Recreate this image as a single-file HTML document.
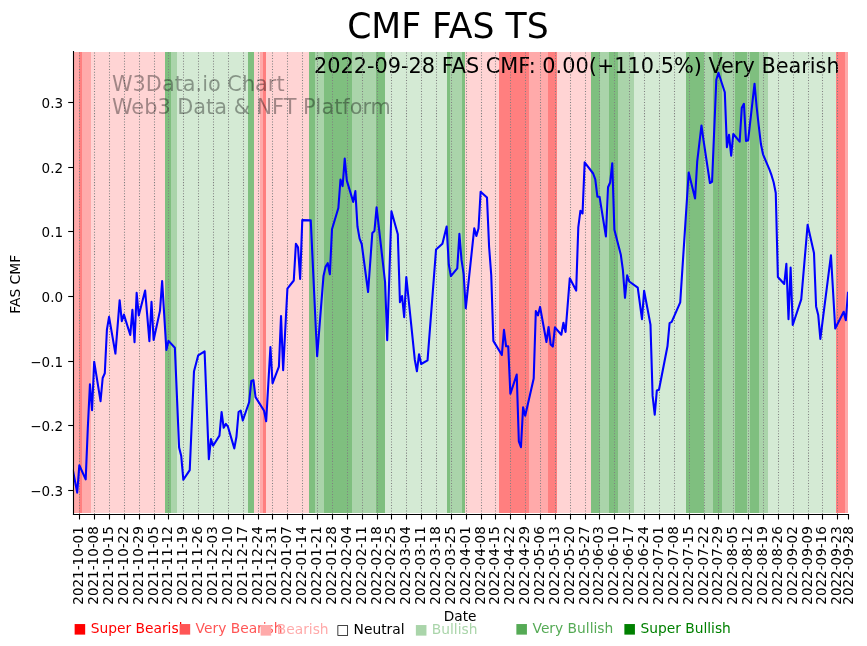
<!DOCTYPE html>
<html lang="en"><head><meta charset="utf-8"><title>CMF FAS TS</title>
<style>html,body{margin:0;padding:0;background:#fff}body{width:867px;height:646px;overflow:hidden}svg{display:block}</style>
</head><body>
<svg width="867" height="646" viewBox="0 0 867 646">
<rect width="867" height="646" fill="#fff"/>
<g shape-rendering="crispEdges">
<rect x="73" y="52" width="6" height="461" fill="#ffaaaa"/>
<rect x="79" y="52" width="3" height="461" fill="#ff7f7f"/>
<rect x="82" y="52" width="9" height="461" fill="#ffaaaa"/>
<rect x="91" y="52" width="74" height="461" fill="#ffd4d4"/>
<rect x="165" y="52" width="6" height="461" fill="#7fbf7f"/>
<rect x="171" y="52" width="6" height="461" fill="#aad4aa"/>
<rect x="177" y="52" width="71" height="461" fill="#d4ead4"/>
<rect x="248" y="52" width="6" height="461" fill="#7fbf7f"/>
<rect x="254" y="52" width="6" height="461" fill="#ffd4d4"/>
<rect x="260" y="52" width="3" height="461" fill="#ffaaaa"/>
<rect x="263" y="52" width="3" height="461" fill="#ff7f7f"/>
<rect x="266" y="52" width="43" height="461" fill="#ffd4d4"/>
<rect x="309" y="52" width="6" height="461" fill="#7fbf7f"/>
<rect x="315" y="52" width="9" height="461" fill="#aad4aa"/>
<rect x="324" y="52" width="28" height="461" fill="#7fbf7f"/>
<rect x="352" y="52" width="24" height="461" fill="#aad4aa"/>
<rect x="376" y="52" width="9" height="461" fill="#7fbf7f"/>
<rect x="385" y="52" width="62" height="461" fill="#d4ead4"/>
<rect x="447" y="52" width="3" height="461" fill="#7fbf7f"/>
<rect x="450" y="52" width="12" height="461" fill="#aad4aa"/>
<rect x="462" y="52" width="3" height="461" fill="#7fbf7f"/>
<rect x="465" y="52" width="34" height="461" fill="#ffd4d4"/>
<rect x="499" y="52" width="30" height="461" fill="#ff7f7f"/>
<rect x="529" y="52" width="19" height="461" fill="#ffaaaa"/>
<rect x="548" y="52" width="9" height="461" fill="#ff7f7f"/>
<rect x="557" y="52" width="34" height="461" fill="#ffd4d4"/>
<rect x="591" y="52" width="9" height="461" fill="#7fbf7f"/>
<rect x="600" y="52" width="9" height="461" fill="#aad4aa"/>
<rect x="609" y="52" width="9" height="461" fill="#7fbf7f"/>
<rect x="618" y="52" width="16" height="461" fill="#aad4aa"/>
<rect x="634" y="52" width="52" height="461" fill="#d4ead4"/>
<rect x="686" y="52" width="18" height="461" fill="#7fbf7f"/>
<rect x="704" y="52" width="9" height="461" fill="#aad4aa"/>
<rect x="713" y="52" width="9" height="461" fill="#7fbf7f"/>
<rect x="722" y="52" width="13" height="461" fill="#aad4aa"/>
<rect x="735" y="52" width="12" height="461" fill="#7fbf7f"/>
<rect x="747" y="52" width="3" height="461" fill="#aad4aa"/>
<rect x="750" y="52" width="9" height="461" fill="#7fbf7f"/>
<rect x="759" y="52" width="9" height="461" fill="#aad4aa"/>
<rect x="768" y="52" width="68" height="461" fill="#d4ead4"/>
<rect x="836" y="52" width="9" height="461" fill="#ff7f7f"/>
<rect x="845" y="52" width="3" height="461" fill="#ffaaaa"/>
</g>
<text font-family="DejaVu Sans, Liberation Sans, sans-serif" font-size="20.83" x="314.0" y="73.2">2022-09-28 FAS CMF: 0.00(+110.5%) Very Bearish</text>
<g stroke="#808080" stroke-width="1.04" stroke-dasharray="1.04 1.72" fill="none">
<path d="M79.5 514.35V51.6"/>
<path d="M94.5 514.35V51.6"/>
<path d="M109.5 514.35V51.6"/>
<path d="M124.5 514.35V51.6"/>
<path d="M139.5 514.35V51.6"/>
<path d="M154.5 514.35V51.6"/>
<path d="M168.5 514.35V51.6"/>
<path d="M183.5 514.35V51.6"/>
<path d="M198.5 514.35V51.6"/>
<path d="M213.5 514.35V51.6"/>
<path d="M228.5 514.35V51.6"/>
<path d="M243.5 514.35V51.6"/>
<path d="M258.5 514.35V51.6"/>
<path d="M272.5 514.35V51.6"/>
<path d="M287.5 514.35V51.6"/>
<path d="M302.5 514.35V51.6"/>
<path d="M317.5 514.35V51.6"/>
<path d="M332.5 514.35V51.6"/>
<path d="M347.5 514.35V51.6"/>
<path d="M362.5 514.35V51.6"/>
<path d="M377.5 514.35V51.6"/>
<path d="M391.5 514.35V51.6"/>
<path d="M406.5 514.35V51.6"/>
<path d="M421.5 514.35V51.6"/>
<path d="M436.5 514.35V51.6"/>
<path d="M451.5 514.35V51.6"/>
<path d="M466.5 514.35V51.6"/>
<path d="M481.5 514.35V51.6"/>
<path d="M495.5 514.35V51.6"/>
<path d="M510.5 514.35V51.6"/>
<path d="M525.5 514.35V51.6"/>
<path d="M540.5 514.35V51.6"/>
<path d="M555.5 514.35V51.6"/>
<path d="M570.5 514.35V51.6"/>
<path d="M585.5 514.35V51.6"/>
<path d="M599.5 514.35V51.6"/>
<path d="M614.5 514.35V51.6"/>
<path d="M629.5 514.35V51.6"/>
<path d="M644.5 514.35V51.6"/>
<path d="M659.5 514.35V51.6"/>
<path d="M674.5 514.35V51.6"/>
<path d="M689.5 514.35V51.6"/>
<path d="M704.5 514.35V51.6"/>
<path d="M718.5 514.35V51.6"/>
<path d="M733.5 514.35V51.6"/>
<path d="M748.5 514.35V51.6"/>
<path d="M763.5 514.35V51.6"/>
<path d="M778.5 514.35V51.6"/>
<path d="M793.5 514.35V51.6"/>
<path d="M808.5 514.35V51.6"/>
<path d="M822.5 514.35V51.6"/>
<path d="M837.5 514.35V51.6"/>
</g>
<clipPath id="axclip"><rect x="72.9" y="51.5" width="775.05" height="462.8"/></clipPath>
<polyline clip-path="url(#axclip)" points="72.95,470.4 77.20,492.6 79.32,465.3 85.69,479.4 87.81,428.0 89.94,384.2 92.06,410.2 94.18,361.7 100.55,401.2 102.68,378.0 104.80,373.3 106.92,329.6 109.05,316.9 115.42,353.6 119.66,300.2 121.79,321.1 123.91,314.6 130.28,335.0 132.40,309.9 134.53,342.3 136.65,292.9 138.77,315.4 145.14,290.6 149.39,341.2 151.51,301.7 153.63,340.0 160.00,310.6 162.13,281.1 166.37,349.9 168.50,340.9 174.87,347.8 179.11,447.6 181.24,456.1 183.36,479.8 189.73,470.1 193.98,371.6 198.22,355.3 204.59,351.4 208.84,459.2 210.96,439.1 213.09,445.8 219.46,435.6 221.58,412.0 223.70,427.8 225.83,423.9 227.95,426.7 234.32,448.4 236.44,436.8 238.57,412.0 240.69,410.5 242.81,420.5 249.18,402.0 251.31,380.9 253.43,380.1 255.55,397.1 264.05,410.8 266.17,421.3 270.42,347.0 272.54,383.3 278.91,366.6 281.03,316.0 283.16,370.2 287.40,288.7 293.77,280.5 295.90,243.8 298.02,247.2 300.14,279.0 302.27,220.1 310.76,220.4 317.13,356.3 323.50,275.9 325.62,266.6 327.74,263.2 329.87,274.3 331.99,229.2 338.36,208.0 340.48,179.5 342.61,186.1 344.73,158.6 346.85,180.6 353.22,201.9 355.35,191.1 357.47,226.5 359.59,238.6 361.72,244.0 368.09,292.0 372.33,233.0 374.46,230.9 376.58,207.3 385.07,282.0 387.20,340.3 391.44,211.2 397.81,234.2 399.94,302.2 402.06,296.0 404.18,317.1 406.31,277.0 414.80,359.7 416.92,371.3 419.05,354.2 421.17,364.0 427.54,360.4 436.03,249.6 442.40,243.8 446.65,226.6 448.77,264.5 450.90,276.1 457.27,268.4 459.39,233.9 461.51,259.9 463.63,273.8 465.76,308.3 474.25,228.4 476.37,235.9 478.50,228.5 480.62,191.7 486.99,197.6 489.11,247.0 491.24,275.0 493.36,340.9 501.85,355.0 503.98,329.8 506.10,346.3 508.22,346.3 510.35,393.8 516.72,374.5 518.84,441.3 520.96,447.2 523.09,407.3 525.21,415.8 533.70,378.6 535.83,311.0 537.95,315.4 540.07,306.9 546.44,342.0 548.57,327.0 550.69,344.5 552.81,346.6 554.94,327.4 561.31,334.7 563.43,322.8 565.55,331.9 569.80,278.2 576.17,290.6 578.29,227.4 580.42,210.7 582.54,213.5 584.66,162.4 593.16,173.5 595.28,179.4 597.40,196.7 599.53,196.7 605.90,236.4 608.02,187.2 610.14,182.5 612.27,163.2 614.39,229.7 620.76,254.4 622.88,269.9 625.00,297.8 627.13,275.3 629.25,281.5 637.74,287.7 641.99,319.1 644.11,290.8 650.48,324.6 652.61,395.9 654.73,414.7 656.85,390.4 658.98,389.7 667.47,346.3 669.59,323.1 671.72,321.9 680.21,302.4 688.70,172.5 695.07,198.5 697.20,161.7 701.44,125.5 703.57,140.7 709.94,183.0 712.06,181.8 716.31,79.8 718.43,72.8 724.80,92.2 726.92,147.1 729.05,134.8 731.17,155.7 733.29,134.0 739.66,141.7 741.79,107.7 743.91,103.8 746.03,140.9 748.16,140.2 754.53,83.7 756.65,107.0 758.77,126.0 760.90,144.0 763.02,154.3 769.39,169.4 771.51,175.2 773.63,182.2 775.76,193.0 777.88,277.0 784.25,284.0 786.37,263.8 788.50,319.2 790.62,267.6 792.74,325.0 801.24,299.4 807.61,224.8 813.98,252.9 816.10,306.4 818.22,314.9 820.35,338.9 830.96,255.2 835.21,328.5 843.70,311.8 845.83,320.3 847.95,292.9" fill="none" stroke="#0000ff" stroke-width="2.08" stroke-linejoin="round" stroke-linecap="square"/>
<g font-family="DejaVu Sans, Liberation Sans, sans-serif" font-size="20.83" fill="#000" fill-opacity="0.37"><text x="112.0" y="90.7">W3Data.io Chart</text><text x="112.0" y="114.3">Web3 Data &amp; NFT Platform</text></g>
<g stroke="#000" stroke-width="1.1" fill="none" stroke-linecap="butt">
<path d="M73.5 51V515.05"/>
<path d="M72.95 514.5H849.05"/>
<path d="M79.5 514.5V519.5"/>
<path d="M94.5 514.5V519.5"/>
<path d="M109.5 514.5V519.5"/>
<path d="M124.5 514.5V519.5"/>
<path d="M139.5 514.5V519.5"/>
<path d="M154.5 514.5V519.5"/>
<path d="M168.5 514.5V519.5"/>
<path d="M183.5 514.5V519.5"/>
<path d="M198.5 514.5V519.5"/>
<path d="M213.5 514.5V519.5"/>
<path d="M228.5 514.5V519.5"/>
<path d="M243.5 514.5V519.5"/>
<path d="M258.5 514.5V519.5"/>
<path d="M272.5 514.5V519.5"/>
<path d="M287.5 514.5V519.5"/>
<path d="M302.5 514.5V519.5"/>
<path d="M317.5 514.5V519.5"/>
<path d="M332.5 514.5V519.5"/>
<path d="M347.5 514.5V519.5"/>
<path d="M362.5 514.5V519.5"/>
<path d="M377.5 514.5V519.5"/>
<path d="M391.5 514.5V519.5"/>
<path d="M406.5 514.5V519.5"/>
<path d="M421.5 514.5V519.5"/>
<path d="M436.5 514.5V519.5"/>
<path d="M451.5 514.5V519.5"/>
<path d="M466.5 514.5V519.5"/>
<path d="M481.5 514.5V519.5"/>
<path d="M495.5 514.5V519.5"/>
<path d="M510.5 514.5V519.5"/>
<path d="M525.5 514.5V519.5"/>
<path d="M540.5 514.5V519.5"/>
<path d="M555.5 514.5V519.5"/>
<path d="M570.5 514.5V519.5"/>
<path d="M585.5 514.5V519.5"/>
<path d="M599.5 514.5V519.5"/>
<path d="M614.5 514.5V519.5"/>
<path d="M629.5 514.5V519.5"/>
<path d="M644.5 514.5V519.5"/>
<path d="M659.5 514.5V519.5"/>
<path d="M674.5 514.5V519.5"/>
<path d="M689.5 514.5V519.5"/>
<path d="M704.5 514.5V519.5"/>
<path d="M718.5 514.5V519.5"/>
<path d="M733.5 514.5V519.5"/>
<path d="M748.5 514.5V519.5"/>
<path d="M763.5 514.5V519.5"/>
<path d="M778.5 514.5V519.5"/>
<path d="M793.5 514.5V519.5"/>
<path d="M808.5 514.5V519.5"/>
<path d="M822.5 514.5V519.5"/>
<path d="M837.5 514.5V519.5"/>
<path d="M848.5 514.5V519.5"/>
<path d="M68.2 102.5H73.5"/>
<path d="M68.2 167.5H73.5"/>
<path d="M68.2 231.5H73.5"/>
<path d="M68.2 296.5H73.5"/>
<path d="M68.2 361.5H73.5"/>
<path d="M68.2 425.5H73.5"/>
<path d="M68.2 490.5H73.5"/>
</g>
<g font-family="DejaVu Sans, Liberation Sans, sans-serif" font-size="13.5" fill="#000" text-anchor="end">
<text x="63.1" y="107.65">0.3</text>
<text x="63.1" y="172.65">0.2</text>
<text x="63.1" y="236.65">0.1</text>
<text x="63.1" y="301.65">0.0</text>
<text x="63.1" y="366.65">−0.1</text>
<text x="63.1" y="430.65">−0.2</text>
<text x="63.1" y="495.65">−0.3</text>
</g>
<g font-family="DejaVu Sans, Liberation Sans, sans-serif" font-size="13.5" fill="#000" text-anchor="end">
<text transform="translate(83.40,526.2) rotate(-90)">2021-10-01</text>
<text transform="translate(98.40,526.2) rotate(-90)">2021-10-08</text>
<text transform="translate(113.40,526.2) rotate(-90)">2021-10-15</text>
<text transform="translate(128.40,526.2) rotate(-90)">2021-10-22</text>
<text transform="translate(143.40,526.2) rotate(-90)">2021-10-29</text>
<text transform="translate(158.40,526.2) rotate(-90)">2021-11-05</text>
<text transform="translate(172.40,526.2) rotate(-90)">2021-11-12</text>
<text transform="translate(187.40,526.2) rotate(-90)">2021-11-19</text>
<text transform="translate(202.40,526.2) rotate(-90)">2021-11-26</text>
<text transform="translate(217.40,526.2) rotate(-90)">2021-12-03</text>
<text transform="translate(232.40,526.2) rotate(-90)">2021-12-10</text>
<text transform="translate(247.40,526.2) rotate(-90)">2021-12-17</text>
<text transform="translate(262.40,526.2) rotate(-90)">2021-12-24</text>
<text transform="translate(276.40,526.2) rotate(-90)">2021-12-31</text>
<text transform="translate(291.40,526.2) rotate(-90)">2022-01-07</text>
<text transform="translate(306.40,526.2) rotate(-90)">2022-01-14</text>
<text transform="translate(321.40,526.2) rotate(-90)">2022-01-21</text>
<text transform="translate(336.40,526.2) rotate(-90)">2022-01-28</text>
<text transform="translate(351.40,526.2) rotate(-90)">2022-02-04</text>
<text transform="translate(366.40,526.2) rotate(-90)">2022-02-11</text>
<text transform="translate(381.40,526.2) rotate(-90)">2022-02-18</text>
<text transform="translate(395.40,526.2) rotate(-90)">2022-02-25</text>
<text transform="translate(410.40,526.2) rotate(-90)">2022-03-04</text>
<text transform="translate(425.40,526.2) rotate(-90)">2022-03-11</text>
<text transform="translate(440.40,526.2) rotate(-90)">2022-03-18</text>
<text transform="translate(455.40,526.2) rotate(-90)">2022-03-25</text>
<text transform="translate(470.40,526.2) rotate(-90)">2022-04-01</text>
<text transform="translate(485.40,526.2) rotate(-90)">2022-04-08</text>
<text transform="translate(499.40,526.2) rotate(-90)">2022-04-15</text>
<text transform="translate(514.40,526.2) rotate(-90)">2022-04-22</text>
<text transform="translate(529.40,526.2) rotate(-90)">2022-04-29</text>
<text transform="translate(544.40,526.2) rotate(-90)">2022-05-06</text>
<text transform="translate(559.40,526.2) rotate(-90)">2022-05-13</text>
<text transform="translate(574.40,526.2) rotate(-90)">2022-05-20</text>
<text transform="translate(589.40,526.2) rotate(-90)">2022-05-27</text>
<text transform="translate(603.40,526.2) rotate(-90)">2022-06-03</text>
<text transform="translate(618.40,526.2) rotate(-90)">2022-06-10</text>
<text transform="translate(633.40,526.2) rotate(-90)">2022-06-17</text>
<text transform="translate(648.40,526.2) rotate(-90)">2022-06-24</text>
<text transform="translate(663.40,526.2) rotate(-90)">2022-07-01</text>
<text transform="translate(678.40,526.2) rotate(-90)">2022-07-08</text>
<text transform="translate(693.40,526.2) rotate(-90)">2022-07-15</text>
<text transform="translate(708.40,526.2) rotate(-90)">2022-07-22</text>
<text transform="translate(722.40,526.2) rotate(-90)">2022-07-29</text>
<text transform="translate(737.40,526.2) rotate(-90)">2022-08-05</text>
<text transform="translate(752.40,526.2) rotate(-90)">2022-08-12</text>
<text transform="translate(767.40,526.2) rotate(-90)">2022-08-19</text>
<text transform="translate(782.40,526.2) rotate(-90)">2022-08-26</text>
<text transform="translate(797.40,526.2) rotate(-90)">2022-09-02</text>
<text transform="translate(812.40,526.2) rotate(-90)">2022-09-09</text>
<text transform="translate(826.40,526.2) rotate(-90)">2022-09-16</text>
<text transform="translate(841.40,526.2) rotate(-90)">2022-09-23</text>
<text transform="translate(853.10,526.2) rotate(-90)">2022-09-28</text>
</g>
<text font-family="DejaVu Sans, Liberation Sans, sans-serif" font-size="13.7" x="443.8" y="621.0">Date</text>
<text font-family="DejaVu Sans, Liberation Sans, sans-serif" font-size="13.89" transform="translate(20.1,313.8) rotate(-90)">FAS CMF</text>
<text font-family="DejaVu Sans, Liberation Sans, sans-serif" font-size="34.62" x="347.2" y="37.7">CMF FAS TS</text>
<g font-family="DejaVu Sans, Liberation Sans, sans-serif" font-size="13.8">
<text x="73.3" y="632.75" fill="#ff0000">■ Super Bearish</text>
<text x="178.2" y="632.75" fill="#ff5555">■ Very Bearish</text>
<text x="259.3" y="633.95" fill="#ffaaaa">■ Bearish</text>
<text x="336.2" y="633.95" fill="#000000">□ Neutral</text>
<text x="414.4" y="633.95" fill="#aad5aa">■ Bullish</text>
<text x="515.1" y="632.8" fill="#55aa55">■ Very Bullish</text>
<text x="623.0" y="632.8" fill="#008000">■ Super Bullish</text>
</g>
</svg>
</body></html>
